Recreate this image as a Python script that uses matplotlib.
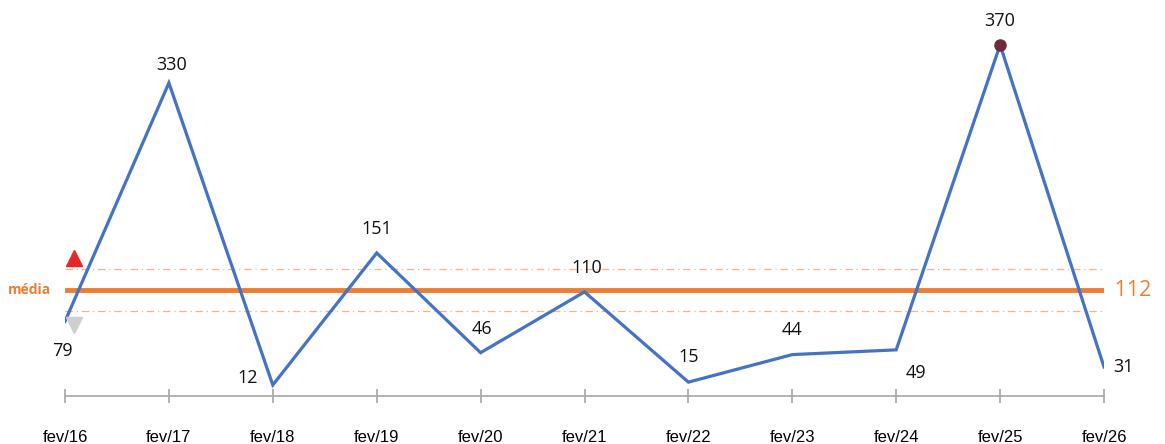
import numpy as np
import matplotlib.pyplot as plt

# dados
dates = ['fev/16', 'fev/17', 'fev/18', 'fev/19', 'fev/20', 'fev/21',
         'fev/22', 'fev/23', 'fev/24', 'fev/25', 'fev/26']
values = [79, 330, 12, 151, 46, 110, 15, 44, 49, 370, 31]
media = 112
upper = 134
lower = 90

# label offsets (points) per point
offsets = [(-2, -21), (2, 13), (-18, 5), (0, 17), (1, 17), (2, 17),
           (0, 18), (0, 18), (14, -17), (0, 17), (14, 0)]

x = np.arange(len(dates))

fig = plt.figure(figsize=(11.65, 4.44), dpi=100)
ax = fig.add_axes([65/1165, (444-396.4)/444, 1039/1165, 380/444])

ax.axhline(upper, color='#F6B08C', lw=0.9, ls=(0, (6, 3, 1, 3)))
ax.axhline(lower, color='#F6B08C', lw=0.9, ls=(0, (6, 3, 1, 3)))
ax.axhline(media, color='#ED7D31', lw=3.5)

ax.plot(x, values, color='#4472C4', lw=2.3, solid_joinstyle='miter', zorder=3)
imax = int(np.argmax(values))
ax.plot(x[imax], values[imax], 'o', color='#6E2A3A', ms=8, zorder=4)

for xi, v, off in zip(x, values, offsets):
    ax.annotate(str(v), (xi, v), xytext=off, textcoords='offset points',
                ha='center', va='center', fontsize=13, family='Open Sans',
                color='#111111')

# triangulos
ax.plot(0.09, 146, marker='^', color='#E8262B', ms=11, clip_on=False, zorder=5)
ax.plot(0.09, 75, marker='v', color='#CFCFCF', ms=11, clip_on=False, zorder=5)

ax.text(-0.34, media, 'média', ha='center', va='center', fontsize=10,
        fontweight='bold', color='#ED7D31', family='Open Sans')
ax.text(10.05, media, ' 112', ha='left', va='center', fontsize=15.5,
        color='#ED7D31', family='Open Sans')

ax.set_xlim(0, 10)
ax.set_ylim(0, 400)
ax.set_xticks(x)
ax.set_xticklabels(dates, family='Liberation Sans', fontsize=12)
ax.set_yticks([])
for s in ['top', 'right', 'left']:
    ax.spines[s].set_visible(False)
ax.spines['bottom'].set_color('#A6A6A6')
ax.spines['bottom'].set_linewidth(1.2)
ax.tick_params(axis='x', direction='inout', length=10, width=1.2,
               color='#A6A6A6', pad=19)

fig.savefig('out.png', dpi=100)
